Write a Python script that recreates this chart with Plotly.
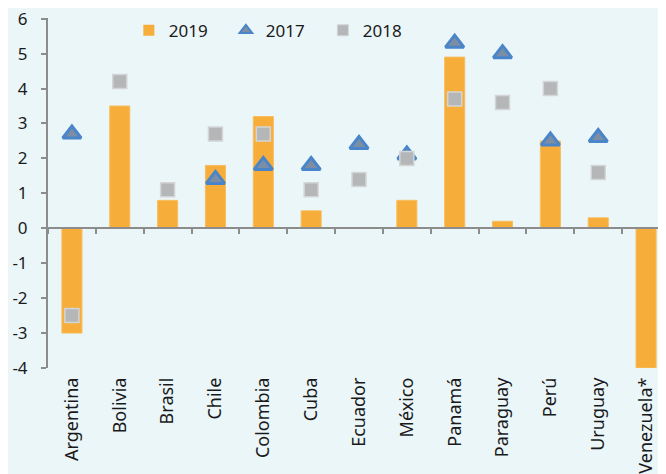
import plotly.graph_objects as go

countries = ["Argentina", "Bolivia", "Brasil", "Chile", "Colombia", "Cuba", "Ecuador",
             "México", "Panamá", "Paraguay", "Perú", "Uruguay", "Venezuela*"]
v2019 = [-3.0, 3.5, 0.8, 1.8, 3.2, 0.5, 0.0, 0.8, 4.9, 0.2, 2.5, 0.3, -4.0]
v2017 = [2.7, None, None, 1.4, 1.8, 1.8, 2.4, 2.1, 5.3, 5.0, 2.5, 2.6, None]
v2018 = [-2.5, 4.2, 1.1, 2.7, 2.7, 1.1, 1.4, 2.0, 3.7, 3.6, 4.0, 1.6, None]
yticks = [-4, -3, -2, -1, 0, 1, 2, 3, 4, 5, 6]

FONT = "Noto Sans"
BG = "#EBF6F9"
AX = "#8C8C8C"
C19, C19L = "#F6AD3A", "#F8BE5E"
C17, C17L = "#7B8EA5", "#4A85C9"
C18, C18L = "#B4B6B7", "#D3D5D6"

fig = go.Figure()
fig.add_trace(go.Bar(x=countries, y=v2019, name="2019", width=0.42, showlegend=False,
                     marker=dict(color=C19, line=dict(color=C19L, width=1))))
fig.add_trace(go.Scatter(x=countries, y=v2017, name="2017", mode="markers", showlegend=False,
                         marker=dict(symbol="triangle-up", size=16, color=C17,
                                     line=dict(color=C17L, width=3))))
fig.add_trace(go.Scatter(x=countries, y=v2018, name="2018", mode="markers", showlegend=False,
                         marker=dict(symbol="square", size=14, color=C18,
                                     line=dict(color=C18L, width=1.5))))
# legend entries with smaller symbols
fig.add_trace(go.Scatter(x=[None], y=[None], name="2019", mode="markers",
                         marker=dict(symbol="square", size=11, color=C19)))
fig.add_trace(go.Scatter(x=[None], y=[None], name="2017", mode="markers",
                         marker=dict(symbol="triangle-up", size=11, color=C17,
                                     line=dict(color=C17L, width=2))))
fig.add_trace(go.Scatter(x=[None], y=[None], name="2018", mode="markers",
                         marker=dict(symbol="square", size=11, color=C18,
                                     line=dict(color=C18L, width=1))))
# invisible trace carrying the bottom category labels
fig.add_trace(go.Scatter(x=countries, y=[None] * len(countries), xaxis="x2",
                         showlegend=False, hoverinfo="skip", mode="markers"))

fig.update_layout(
    width=666, height=474,
    margin=dict(l=40, r=4, t=10, b=114),
    paper_bgcolor=BG, plot_bgcolor=BG,
    font=dict(family=FONT, size=17, color="#1a1a1a"),
    legend=dict(orientation="h", x=0.13, xanchor="left", y=1.015, yanchor="top",
                bgcolor="rgba(0,0,0,0)", font=dict(size=17), entrywidth=52,
                itemwidth=30, tracegroupgap=0),
    xaxis=dict(type="category", categoryorder="array", categoryarray=countries,
               range=[-0.5, 12.5], anchor="free", position=0.4,
               showline=True, linecolor=AX, linewidth=2,
               ticks="outside", tickson="boundaries", ticklen=5, tickcolor=AX, tickwidth=1.5,
               showticklabels=False, showgrid=False, zeroline=False),
    xaxis2=dict(type="category", categoryorder="array", categoryarray=countries,
                overlaying="x", anchor="y", side="bottom", matches="x",
                range=[-0.5, 12.5], showline=False, ticks="", showgrid=False,
                tickangle=-90, tickfont=dict(size=18, family=FONT), ticklabelstandoff=5,
                automargin=False, ticklabeloverflow="allow"),
    yaxis=dict(range=[-4, 6.02], tickvals=yticks, ticktext=[str(t) for t in yticks],
               showline=True, linecolor=AX, linewidth=2, ticks="outside", ticklen=5,
               tickcolor=AX, tickwidth=1.5, showgrid=False, zeroline=False,
               ticklabelstandoff=10, tickfont=dict(size=17, family=FONT),
               automargin=False, ticklabeloverflow="allow"),
)

fig.write_html("out.html")
